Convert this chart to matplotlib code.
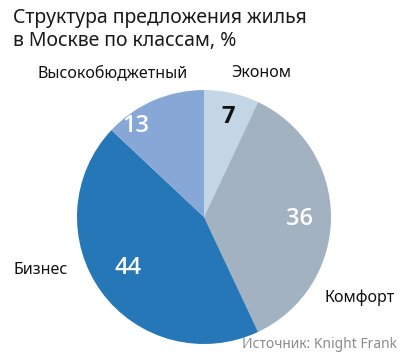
import matplotlib.pyplot as plt

plt.rcParams['font.family'] = ['Noto Sans', 'DejaVu Sans']

categories = ['Эконом', 'Комфорт', 'Бизнес', 'Высокобюджетный']
shares = [7, 36, 44, 13]
colors = ['#c3d6e6', '#a2b2c1', '#2577b8', '#87a8d6']
number_colors = ['#111111', 'white', 'white', 'white']

W, H = 406, 361
fig = plt.figure(figsize=(W / 100, H / 100), dpi=100)
ax = fig.add_axes([0, 0, 1, 1])

cx, cy, r = 204, H - 217, 127
ax.pie(shares, colors=colors, startangle=90, counterclock=False,
       center=(cx, cy), radius=r, frame=True, wedgeprops=dict(linewidth=0))
ax.set_xlim(0, W)
ax.set_ylim(0, H)
ax.set_aspect('equal')
ax.axis('off')

# values inside slices
num_pos = [(228, 117), (300, 219), (128, 268), (136, 126)]
for v, (x, y), c in zip(shares, num_pos, number_colors):
    ax.text(x, H - y, str(v), ha='center', va='center', fontsize=17,
            color=c, fontweight='bold' if c != 'white' else 'semibold',
            family=['Open Sans', 'DejaVu Sans'])

# category labels
lab_pos = [(261, 73), (360, 298), (41, 270), (113, 73)]
for name, (x, y) in zip(categories, lab_pos):
    ax.text(x, H - y, name, ha='center', va='center', fontsize=11.5, color='#111111')

ax.text(13, H - 18, 'Структура предложения жилья', ha='left', va='center',
        fontsize=14, color='#1a1a1a')
ax.text(13, H - 41, 'в Москве по классам, %', ha='left', va='center',
        fontsize=14, color='#1a1a1a')
ax.text(397, H - 344, 'Источник: Knight Frank', ha='right', va='center',
        fontsize=10, color='#8c8c8c')

fig.savefig('out.png', dpi=100)
